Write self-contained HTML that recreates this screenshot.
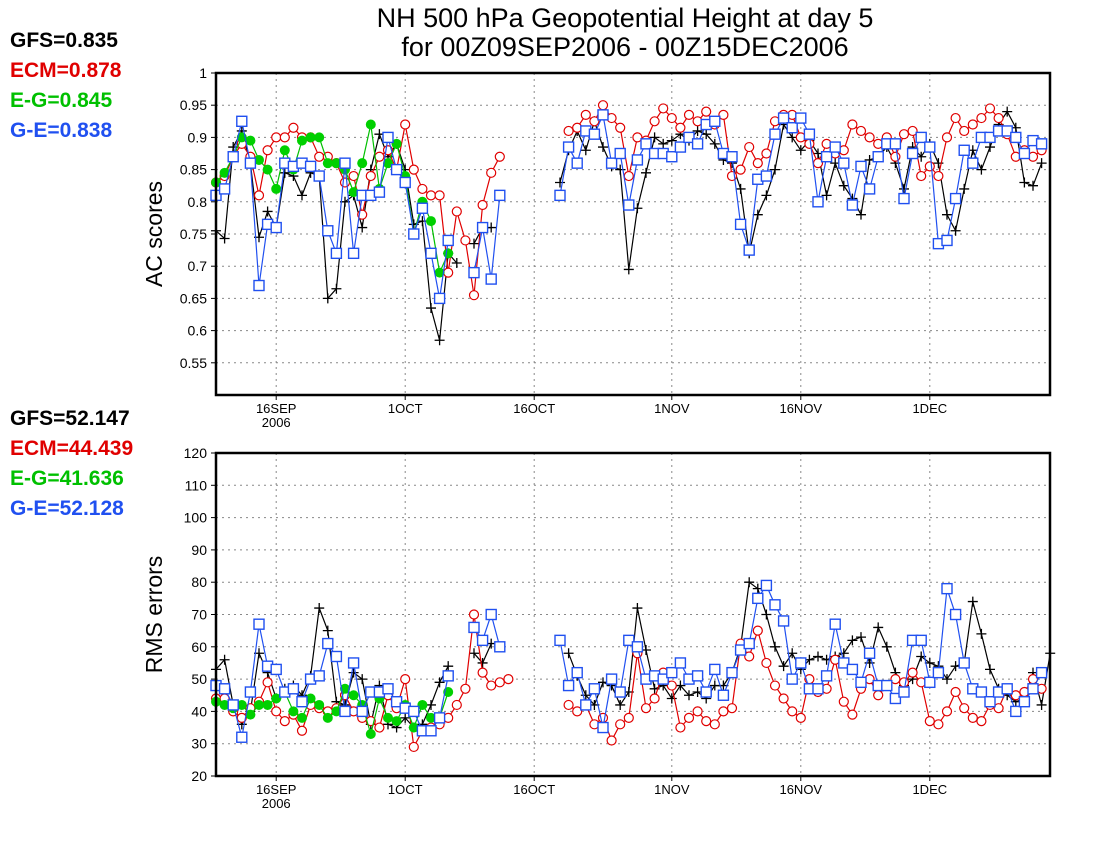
<!DOCTYPE html>
<html><head><meta charset="utf-8">
<style>
html,body{margin:0;padding:0;background:#fff;width:1100px;height:850px;overflow:hidden;font-family:"Liberation Sans",sans-serif}
</style></head><body>
<svg id="s" width="1100" height="850" xmlns="http://www.w3.org/2000/svg" font-family="Liberation Sans, sans-serif"></svg>
<script>
var N=null;
var S=document.getElementById('s');var out='';
function X(d){return 216+d*8.6;}
function pad(a,b,off){var r=[];for(var i=0;i<98;i++)r.push(N);for(var i=0;i<a.length;i++)r[i]=a[i];if(b)for(var i=0;i<b.length&&off+i<98;i++)r[off+i]=b[i];return r;}
var gT=pad([.755,.743,.885,.91,.86,.745,.785,.76,.845,.84,.81,.845,.84,.65,.665,.80,.81,.76,.85,.905,.87,.89,.85,.765,.77,.635,.585,.72,.705,N,.735,.76,.76],
[.83,.88,.91,.88,.925,.885,.855,.85,.695,.79,.845,.9,.89,.895,.905,.895,.91,.905,.89,.865,.86,.82,.72,.78,.81,.85,.92,.9,.88,.895,.875,.81,.86,.825,.805,.78,.865,.87,.885,.86,.82,.885,.87,.89,.86,.78,.755,.82,.88,.85,.885,.92,.94,.915,.83,.825,.86],40);
var rT=pad([.83,.84,.87,.89,.87,.81,.88,.9,.9,.915,.9,.9,.87,.87,.86,.83,.84,.78,.84,.87,.88,.85,.92,.85,.82,.81,.81,.69,.785,.74,.655,.795,.845,.87],
[N,.91,.915,.935,.925,.95,.93,.915,.84,.9,.895,.925,.945,.93,.915,.935,.925,.94,.92,.935,.84,.85,.885,.86,.875,.925,.935,.935,.9,.89,.86,.89,.875,.88,.92,.91,.9,.89,.9,.87,.905,.91,.84,.855,.84,.9,.93,.91,.92,.93,.945,.93,.905,.87,.88,.87,.88],40);
var bT=pad([.81,.82,.87,.925,.86,.67,.765,.76,.86,.855,.86,.855,.84,.755,.72,.86,.72,.81,.81,.815,.9,.85,.83,.75,.79,.72,.65,.74,N,N,.69,.76,.68,.81],
[.81,.885,.86,.91,.905,.935,.86,.875,.795,.865,.89,.875,.875,.87,.885,.9,.89,.92,.925,.875,.87,.765,.725,.835,.84,.905,.93,.915,.93,.905,.80,.87,.885,.86,.795,.855,.82,.87,.89,.89,.805,.875,.9,.885,.735,.74,.805,.88,.86,.9,.9,.91,.91,.9,.875,.895,.89],40);
var eT=pad([.83,.845,.87,.9,.895,.865,.85,.82,.88,.85,.895,.9,.9,.86,.86,.85,.815,.86,.92,.82,.86,.89,.84,.75,.8,.77,.69,.72]);
var gB=pad([53,56,42,36,40,58,52,44,47,48,45,51,72,65,43,42,52,50,36,48,36,35,38,35,36,42,49,54,N,N,58,55,61],
[58,51,45,42,49,48,42,46,72,59,47,48,44,48,45,46,44,48,48,52,60,80,78,70,60,54,58,53,56,57,56,57,58,62,63,55,66,60,52,48,50,57,55,54,50,54,55,74,64,53,47,45,43,44,52,42,58,55],41);
var rB=pad([44,44,40,38,41,43,49,40,37,39,34,42,41,40,41,45,40,38,37,35,45,41,50,29,34,35,36,38,42,47,70,52,48,49,50],
[N,42,40,42,36,38,31,36,38,58,41,44,52,48,35,38,40,37,36,40,41,61,57,65,55,48,44,40,38,50,46,47,56,43,39,47,50,45,48,50,49,52,49,37,36,40,46,41,38,37,42,41,47,45,46,50,47],40);
var bB=pad([48,47,42,32,46,67,54,53,46,47,43,50,51,61,57,40,55,40,46,46,47,43,41,40,34,34,38,51,N,N,66,62,70,60],
[62,48,52,42,47,35,50,46,62,60,50,51,50,52,55,50,51,46,53,45,52,59,61,75,79,73,68,50,55,47,47,51,67,55,53,49,58,48,48,44,46,62,62,49,52,78,70,55,47,46,43,46,47,40,43,47,52],40);
var eB=pad([43,42,41,42,39,42,42,44,46,40,38,44,42,38,40,47,45,42,33,44,38,37,42,35,42,38,38,46]);

function panel(top,bot,vmin,vmax,ticks,fmt,label,series){
  var L=216,R=1050;
  function Y(v){return bot-(v-vmin)/(vmax-vmin)*(bot-top);}
  ticks.forEach(function(t){var y=Y(t);
    if(t>vmin&&t<vmax)out+='<line x1="'+L+'" x2="'+R+'" y1="'+y+'" y2="'+y+'" stroke="#888" stroke-dasharray="2,4"/>';
    out+='<line x1="'+(L-5)+'" x2="'+L+'" y1="'+y+'" y2="'+y+'" stroke="#000"/>';
    out+='<text x="'+(L-9)+'" y="'+(y+5)+'" font-size="14" text-anchor="end">'+fmt(t)+'</text>';});
  [[7,'16SEP'],[22,'1OCT'],[37,'16OCT'],[53,'1NOV'],[68,'16NOV'],[83,'1DEC']].forEach(function(a){var x=X(a[0]);
    out+='<line x1="'+x+'" x2="'+x+'" y1="'+top+'" y2="'+bot+'" stroke="#888" stroke-dasharray="2,4"/>';
    out+='<line x1="'+x+'" x2="'+x+'" y1="'+bot+'" y2="'+(bot+5)+'" stroke="#000"/>';
    out+='<text x="'+x+'" y="'+(bot+18)+'" font-size="13" text-anchor="middle">'+a[1]+'</text>';});
  out+='<text x="'+X(7)+'" y="'+(bot+32)+'" font-size="13" text-anchor="middle">2006</text>';
  series.forEach(function(s){var d=s[0],col=s[1],m=s[2];var p='';
    for(var i=0;i<98;i++){if(d[i]==N){continue;}var x=X(i),y=Y(d[i]);p+=((i>0&&d[i-1]!=N)?'L':'M')+x.toFixed(1)+','+y.toFixed(1);}
    out+='<path d="'+p+'" fill="none" stroke="'+col+'" stroke-width="1.2"/>';
    for(var i=0;i<98;i++){if(d[i]==N)continue;var x=X(i),y=Y(d[i]);
      if(m=='+')out+='<path d="M'+(x-5)+','+y+'h10M'+x+','+(y-5)+'v10" stroke="#000" stroke-width="1.3"/>';
      else if(m=='o')out+='<circle cx="'+x+'" cy="'+y+'" r="4.5" fill="#fff" stroke="'+col+'" stroke-width="1.2"/>';
      else if(m=='g')out+='<circle cx="'+x+'" cy="'+y+'" r="5" fill="#00d000"/>';
      else out+='<rect x="'+(x-5)+'" y="'+(y-5)+'" width="10" height="10" fill="#fff" stroke="'+col+'" stroke-width="1.4"/>';}
  });
  out+='<rect x="'+L+'" y="'+top+'" width="'+(R-L)+'" height="'+(bot-top)+'" fill="none" stroke="#000" stroke-width="2.5"/>';
  var cy=(top+bot)/2;
  out+='<text transform="translate(162,'+cy+') rotate(-90)" font-size="23" text-anchor="middle">'+label+'</text>';
}
panel(73,395,0.5,1,[0.55,0.6,0.65,0.7,0.75,0.8,0.85,0.9,0.95,1],function(t){return t==1?'1':String(+t.toFixed(2));},'AC scores',
 [[gT,'#000','+'],[rT,'#e00000','o'],[eT,'#00c000','g'],[bT,'#2050f0','s']]);
panel(453,776,20,120,[20,30,40,50,60,70,80,90,100,110,120],function(t){return t;},'RMS errors',
 [[gB,'#000','+'],[rB,'#e00000','o'],[eB,'#00c000','g'],[bB,'#2050f0','s']]);
out+='<text x="625" y="27" font-size="27" text-anchor="middle">NH 500 hPa Geopotential Height at day 5</text>';
out+='<text x="625" y="56" font-size="27" text-anchor="middle">for 00Z09SEP2006 - 00Z15DEC2006</text>';
function stats(y,a){var c=['#000','#e00000','#00c000','#2050f0'];a.forEach(function(t,i){out+='<text x="10" y="'+(y+i*30)+'" font-size="21" font-weight="bold" fill="'+c[i]+'">'+t+'</text>';});}
stats(47,['GFS=0.835','ECM=0.878','E-G=0.845','G-E=0.838']);
stats(425,['GFS=52.147','ECM=44.439','E-G=41.636','G-E=52.128']);
S.innerHTML=out;
</script>
</body></html>
